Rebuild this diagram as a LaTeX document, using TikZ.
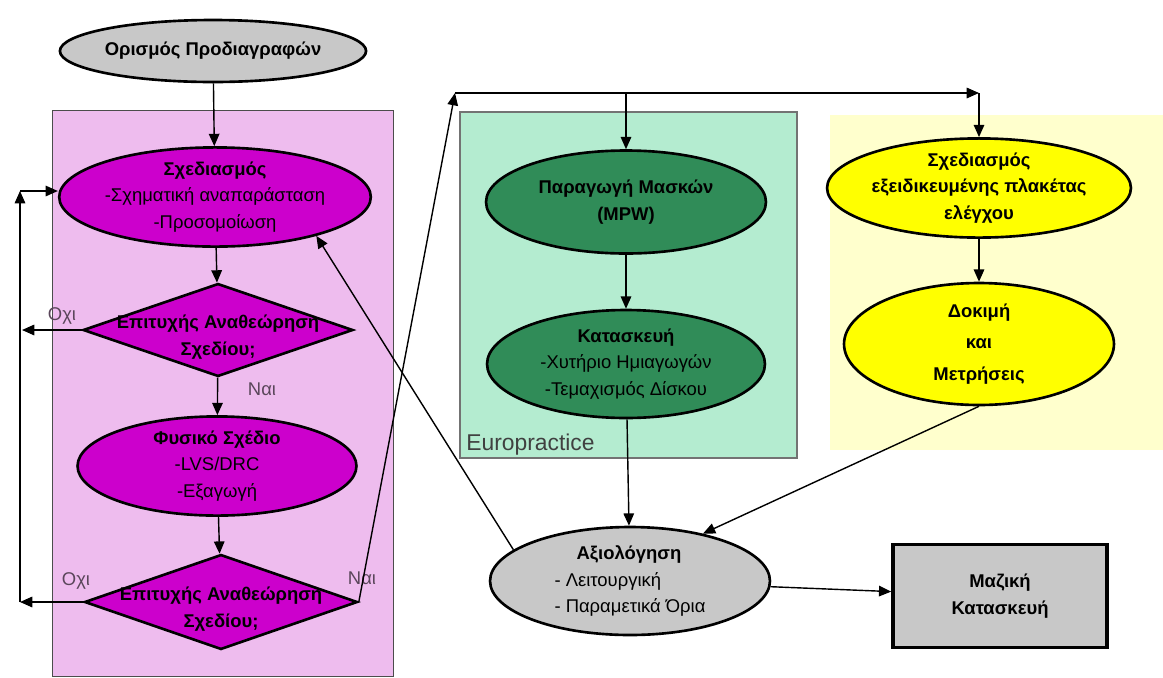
\documentclass[tikz,border=0pt]{standalone}
\usepackage{fontspec}
\setmainfont{Liberation Sans}
\usetikzlibrary{shapes.geometric,arrows.meta}

\definecolor{pinkbg}{RGB}{238,188,238}
\definecolor{violetfill}{RGB}{204,0,204}
\definecolor{mintbg}{RGB}{180,236,208}
\definecolor{greenfill}{RGB}{48,140,88}
\definecolor{creambg}{RGB}{255,255,205}
\definecolor{yellowfill}{RGB}{255,255,0}
\definecolor{greyfill}{RGB}{200,200,200}
\definecolor{labelgrey}{RGB}{90,70,90}

\begin{document}
\begin{tikzpicture}[x=0.02cm, y=-0.02cm,
    font=\fontsize{10.5}{15}\selectfont,
    oval/.style={draw, ellipse, line width=1.5pt, inner sep=0pt, align=center},
    rhomb/.style={draw, diamond, line width=1.5pt, inner sep=0pt, fill=violetfill,
      label={[align=center, yshift=-4pt, font=\fontsize{10.5}{15}\selectfont\bfseries]center:#1}},
    arr/.style={-{Triangle[length=7pt,width=6pt]}, line width=0.8pt},
    lbl/.style={text=labelgrey, font=\fontsize{10.5}{12}\selectfont}]
  \useasboundingbox (0,0) rectangle (1163,677);

  % background areas
  \fill[pinkbg, draw=black!70] (52,110) rectangle (393,676);
  \fill[mintbg, draw=black!55, line width=0.8pt] (460,112) rectangle (797,458);
  \fill[creambg] (830,115) rectangle (1163,450);
  \node[anchor=south west, inner sep=0pt, text=black!75, font=\fontsize{13}{15}\selectfont]
    (europ) at (466,456) {Europractice};

  % left column
  \node[oval, fill=greyfill, minimum width=5.6cm, minimum height=1.24cm, font=\fontsize{10.5}{15}\selectfont\bfseries]
    (orismos) at (213,51) {Ορισμός Προδιαγραφών};
  \node[oval, fill=violetfill, minimum width=5.5cm, minimum height=1.96cm]
    (sx) at (215,197) {\textbf{Σχεδιασμός}\\-Σχηματική αναπαράσταση\\-Προσομοίωση};
  \node[rhomb={Επιτυχής Αναθεώρηση\\Σχεδίου;}, minimum width=5.4cm, minimum height=1.86cm]
    (epit1) at (218,330) {};
  \node[oval, fill=violetfill, minimum width=5.58cm, minimum height=1.9cm]
    (fys) at (217,466) {\textbf{Φυσικό Σχέδιο}\\-LVS/DRC\\-Εξαγωγή};
  \node[rhomb={Επιτυχής Αναθεώρηση\\Σχεδίου;}, minimum width=5.46cm, minimum height=1.9cm]
    (epit2) at (221,602) {};

  \node[lbl] (oxi1) at (62,316) {Οχι};
  \node[lbl] (nai1) at (262,389) {Ναι};
  \node[lbl] (oxi2) at (76,581) {Οχι};
  \node[lbl] (nai2) at (362,578) {Ναι};

  % middle column
  \node[oval, fill=greenfill, minimum width=5.6cm, minimum height=2.06cm, font=\fontsize{10.5}{15}\selectfont\bfseries]
    (mpw) at (626,202) {Παραγωγή Μασκών\\(MPW)};
  \node[oval, fill=greenfill, minimum width=5.56cm, minimum height=2.16cm]
    (kat) at (626,364) {\textbf{Κατασκευή}\\-Χυτήριο Ημιαγωγών\\-Τεμαχισμός Δίσκου};
  \node[oval, fill=greyfill, minimum width=5.6cm, minimum height=2.16cm, align=left]
    (axi) at (630,581) {\hspace*{1.2em}\textbf{Αξιολόγηση}\\- Λειτουργική\\- Παραμετικά Όρια};

  % right column
  \node[oval, fill=yellowfill, minimum width=5.4cm, minimum height=1.9cm, font=\fontsize{10.5}{15}\selectfont\bfseries]
    (plak) at (979,188) {Σχεδιασμός\\εξειδικευμένης πλακέτας\\ελέγχου};
  \node[oval, fill=yellowfill, minimum width=5.4cm, minimum height=2.44cm, font=\fontsize{10.5}{15}\selectfont\bfseries]
    (dok) at (979,344) {Δοκιμή\\[3pt]και\\[3pt]Μετρήσεις};
  \node[draw, fill=greyfill, line width=2pt, minimum width=4.28cm, minimum height=2.06cm,
    align=center, font=\fontsize{10.5}{15}\selectfont\bfseries]
    (mazi) at (1000,596) {Μαζική\\Κατασκευή};

  % connectors
  \coordinate (loopbot) at (20,602);
  \coordinate (looptop) at (20,191);
  \coordinate (oxiend1) at (22,330);
  \coordinate (topleft) at (455,93);
  \coordinate (topright) at (979,93);

  \draw[arr] (orismos) -- (sx);
  \draw[arr] (sx) -- (epit1);
  \draw[arr] (epit1) -- (fys);
  \draw[arr] (fys) -- (epit2);
  \draw[arr] (epit1.west) -- (oxiend1);
  \draw[arr] (epit2.west) -- (loopbot);
  \draw[arr] (loopbot) -- (looptop);
  \draw[arr] (looptop) -- (sx.west |- looptop);
  \draw[arr] (epit2.east) -- (topleft);
  \draw[arr] (topleft) -- (topright);
  \draw[arr] (topright) -- (plak.north);
  \draw[arr] (mpw.north |- topleft) -- (mpw.north);
  \draw[arr] (mpw) -- (kat);
  \draw[arr] (plak) -- (dok);
  \draw[arr] (kat) -- (axi);
  \draw[arr] (dok.south) -- (axi.33);
  \draw[arr] (axi.165) -- (sx.-21);
  \draw[arr] (axi) -- (mazi);
\end{tikzpicture}
\end{document}
